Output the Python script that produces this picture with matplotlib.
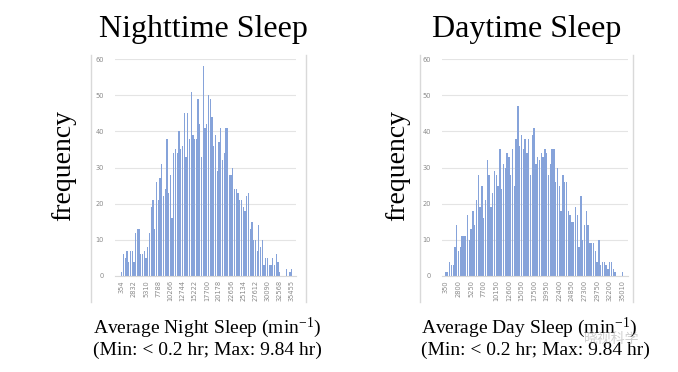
import matplotlib
matplotlib.use("Agg")
import matplotlib.pyplot as plt
from matplotlib.lines import Line2D
import numpy as np

# --- DATA ---
night_counts = [1, 6, 5, 7, 4, 7, 7, 4, 12, 13,
                13, 6, 6, 7, 5, 8, 12, 19, 21, 13,
                26, 21, 27, 31, 22, 24, 38, 23, 28, 16,
                34, 35, 34, 40, 35, 36, 45, 33, 45, 38,
                51, 39, 38, 38, 49, 42, 33, 58, 41, 42,
                50, 49, 44, 36, 39, 29, 37, 41, 32, 34,
                41, 41, 28, 28, 30, 24, 24, 23, 21, 21,
                19, 18, 22, 23, 13, 15, 10, 10, 7, 14,
                8, 10, 3, 5, 5, 3, 3, 5, 3, 6,
                4, 1, 0, 0, 0, 2, 0, 1, 2]
night_ticks = ["354", "2832", "5310", "7788", "10266", "12744", "15222", "17700",
               "20178", "22656", "25134", "27612", "30090", "32568", "35455"]

day_counts = [1, 1, 4, 3, 3, 8, 14, 7, 8, 11,
              11, 11, 17, 10, 13, 18, 14, 21, 28, 19,
              25, 16, 21, 32, 28, 19, 23, 29, 28, 25,
              35, 24, 31, 30, 34, 33, 28, 35, 25, 38,
              47, 36, 39, 35, 38, 34, 38, 28, 39, 41,
              31, 33, 32, 34, 33, 35, 34, 28, 31, 35,
              35, 26, 30, 25, 18, 28, 26, 26, 18, 17,
              15, 15, 19, 17, 8, 22, 10, 14, 18, 14,
              9, 9, 9, 7, 4, 10, 3, 4, 4, 3,
              2, 4, 4, 2, 1, 0, 0, 0, 1]
day_ticks = ["350", "2800", "5250", "7700", "10150", "12600", "15050", "17500",
             "19950", "22400", "24850", "27300", "29750", "32200", "35010"]

titles = ["Nighttime Sleep", "Daytime Sleep"]
xlabels = ["Average Night Sleep (min$^{\\mathrm{-1}}$)", "Average Day Sleep (min$^{\\mathrm{-1}}$)"]
range_note = "(Min: < 0.2 hr; Max: 9.84 hr)"
yticks = [0, 10, 20, 30, 40, 50, 60]

# --- STYLE ---
SERIF = "Liberation Serif"
plt.rcParams["mathtext.fontset"] = "custom"
plt.rcParams["mathtext.rm"] = SERIF
plt.rcParams["mathtext.it"] = SERIF
BAR_COLOR = "#86a3da"
GRID_COLOR = "#e4e4e4"
TICK_COLOR = "#8a8a8a"
FRAME_COLOR = "#d9d9d9"

W, H = 678, 372
fig = plt.figure(figsize=(W / 100, H / 100), dpi=100)


def px_axes(x0, x1, y_top, y_bot):
    return fig.add_axes([x0 / W, 1 - y_bot / H, (x1 - x0) / W, (y_bot - y_top) / H])


def frame_line(x, y0, y1):
    fig.add_artist(Line2D([x / W, x / W], [1 - y0 / H, 1 - y1 / H],
                          color=FRAME_COLOR, lw=1.0, transform=fig.transFigure))


def histo(ax, counts, ticks, xlim):
    pos = np.arange(len(counts))
    ax.bar(pos, counts, width=0.72, color=BAR_COLOR, linewidth=0, zorder=2)
    ax.set_ylim(0, 60)
    ax.set_xlim(*xlim)
    ax.set_yticks(yticks)
    ax.set_yticklabels([str(t) for t in yticks])
    tick_pos = [i * 7 for i in range(len(ticks) - 1)] + [len(counts) - 1]
    ax.set_xticks(tick_pos)
    ax.set_xticklabels(ticks, rotation=90)
    ax.tick_params(axis="both", length=0, labelsize=4.8, colors=TICK_COLOR)
    ax.tick_params(axis="y", pad=8)
    ax.tick_params(axis="x", pad=3)
    ax.grid(axis="y", color=GRID_COLOR, lw=0.8, zorder=0)
    ax.set_axisbelow(True)
    for s in ["top", "right", "left"]:
        ax.spines[s].set_visible(False)
    ax.spines["bottom"].set_color(FRAME_COLOR)
    ax.spines["bottom"].set_linewidth(0.8)


# left chart
ax1 = px_axes(115, 296, 59, 276)
histo(ax1, night_counts, night_ticks, (-3.9, 100.4))
frame_line(91, 55, 302)
frame_line(306, 55, 302)

# right chart
ax2 = px_axes(442, 628, 59, 276)
histo(ax2, day_counts, day_ticks, (-2.2, 101.2))
frame_line(420, 55, 302)
frame_line(633, 55, 302)

# titles and side labels
fig.text(203 / W, 1 - 30 / H, titles[0], family=SERIF, fontsize=23, ha="center", va="center")
fig.text(527 / W, 1 - 30 / H, titles[1], family=SERIF, fontsize=23, ha="center", va="center")
fig.text(64 / W, 1 - 165 / H, "frequency", family=SERIF, fontsize=20, rotation=90,
         ha="center", va="center")
fig.text(398 / W, 1 - 165 / H, "frequency", family=SERIF, fontsize=20, rotation=90,
         ha="center", va="center")

# axis descriptions below the charts
fig.text(93 / W, 1 - 328 / H, xlabels[0], family=SERIF, fontsize=14, ha="left", va="center")
fig.text(93 / W, 1 - 350 / H, range_note, family=SERIF, fontsize=14, ha="left", va="center")
fig.text(421 / W, 1 - 328 / H, xlabels[1], family=SERIF, fontsize=14, ha="left", va="center")
fig.text(421 / W, 1 - 350 / H, range_note, family=SERIF, fontsize=14, ha="left", va="center")

# faint watermark
fig.text(612 / W, 1 - 339 / H, "晓视科学", family=["Noto Sans CJK SC", "DejaVu Sans"],
         fontsize=10, color="#a0a0a0", alpha=0.5, ha="center", va="center")

fig.savefig("out.png", dpi=100)
